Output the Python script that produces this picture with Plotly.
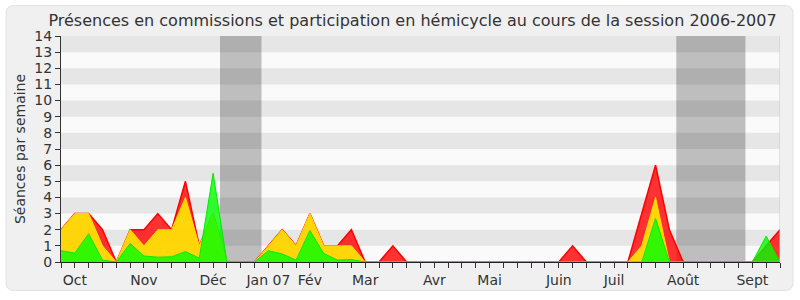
import plotly.graph_objects as go

weeks = list(range(53))
month_labels = {1: "Oct", 6: "Nov", 11: "Déc", 15: "Jan 07", 18: "Fév", 22: "Mar",
                27: "Avr", 31: "Mai", 36: "Juin", 40: "Juil", 45: "Août", 50: "Sept"}
tick_text = [month_labels.get(w, "") for w in weeks]

# Séances par semaine
red = [2, 3, 3, 2, 0, 2, 2, 3, 2, 5, 1, 3, 0, 0, 0, 1, 2, 1, 3, 1, 1, 2, 0, 0, 1, 0,
       0, 0, 0, 0, 0, 0, 0, 0, 0, 0, 0, 1, 0, 0, 0, 0, 3, 6, 2, 0, 0, 0, 0, 0, 0, 1, 2]
yellow = [2, 3, 3, 1, 0, 2, 1, 2, 2, 4, 1, 3, 0, 0, 0, 1, 2, 1, 3, 1, 1, 1, 0, 0, 0, 0,
          0, 0, 0, 0, 0, 0, 0, 0, 0, 0, 0, 0, 0, 0, 0, 0, 1, 4, 0, 0, 0, 0, 0, 0, 0, 0, 0]
green = [0.7, 0.55, 1.75, 0.12, 0, 1.15, 0.37, 0.3, 0.32, 0.65, 0.24, 5.5, 0, 0, 0, 0.7,
         0.5, 0.12, 1.95, 0.53, 0.12, 0.15, 0, 0, 0, 0, 0, 0, 0, 0, 0, 0, 0, 0, 0, 0, 0,
         0, 0, 0, 0, 0, 0, 2.7, 0, 0, 0, 0, 0, 0, 0, 1.6, 0]

vacations = [(11.5, 14.5), (44.5, 49.5)]
y_max = 14
x_max = weeks[-1]

fig = go.Figure()
fig.add_trace(go.Scatter(x=weeks, y=red, mode="lines", fill="tozeroy",
                         fillcolor="rgba(255,0,0,0.8)", line=dict(color="#ff0000", width=1.5),
                         hoverinfo="skip"))
fig.add_trace(go.Scatter(x=weeks, y=yellow, mode="lines", fill="tozeroy",
                         fillcolor="rgba(255,255,0,0.8)", line=dict(color="rgba(255,220,0,1)", width=1),
                         hoverinfo="skip"))
fig.add_trace(go.Scatter(x=weeks, y=green, mode="lines", fill="tozeroy",
                         fillcolor="rgba(0,255,0,0.8)", line=dict(color="rgba(0,235,0,1)", width=1),
                         hoverinfo="skip"))

L, R, T, B = 61, 20, 36, 34
W, H = 800, 300
pw, ph = W - L - R, H - T - B


def px(x):
    return (x - L) / pw


def py(y):
    return (H - B - y) / ph


shapes = []
x0, x1, y0, y1, r = 6, 793, 5, 295, 8
path = (f"M {px(x0+r)},{py(y0)} L {px(x1-r)},{py(y0)} Q {px(x1)},{py(y0)} {px(x1)},{py(y0+r)} "
        f"L {px(x1)},{py(y1-r)} Q {px(x1)},{py(y1)} {px(x1-r)},{py(y1)} "
        f"L {px(x0+r)},{py(y1)} Q {px(x0)},{py(y1)} {px(x0)},{py(y1-r)} "
        f"L {px(x0)},{py(y0+r)} Q {px(x0)},{py(y0)} {px(x0+r)},{py(y0)} Z")
shapes.append(dict(type="path", xref="paper", yref="paper", path=path, layer="below",
                   fillcolor="#f0f0f0", line=dict(color="#e2e2e2", width=1)))
# plot background (axis-referenced so it sits above the frame)
shapes.append(dict(type="rect", xref="x", yref="y", x0=0, x1=x_max, y0=0, y1=y_max,
                   layer="below", fillcolor="#fafafa", line=dict(width=0)))
for a, b in vacations:
    shapes.append(dict(type="rect", xref="x", yref="y", x0=a, x1=b, y0=0, y1=y_max,
                       layer="below", fillcolor="#bebebe", line=dict(width=0)))
for k in range(1, y_max, 2):
    shapes.append(dict(type="rect", xref="x", yref="y", x0=0, x1=x_max, y0=k, y1=k + 1,
                       layer="below", fillcolor="rgba(0,0,0,0.08)", line=dict(width=0)))
shapes.append(dict(type="line", xref="x", yref="y", x0=x_max, x1=x_max, y0=0, y1=y_max,
                   line=dict(color="#c8c8c8", width=1)))

font = "DejaVu Sans"
fig.update_layout(
    width=W, height=H,
    margin=dict(l=L, r=R, t=T, b=B),
    paper_bgcolor="white",
    plot_bgcolor="rgba(0,0,0,0)",
    showlegend=False,
    shapes=shapes,
    font=dict(family=font, color="#333333", size=14),
    title=dict(text="Présences en commissions et participation en hémicycle au cours de la session 2006-2007",
               x=412.5 / W, xanchor="center", xref="container",
               y=1 - 20 / H, yanchor="middle", yref="container",
               font=dict(family=font, size=16, color="#333333")),
    xaxis=dict(range=[0, x_max], tickmode="array", tickvals=weeks, ticktext=tick_text,
               ticks="outside", ticklen=5, tickcolor="#333333", tickwidth=1,
               showline=True, linecolor="#222222", linewidth=1,
               showgrid=False, zeroline=False, tickfont=dict(size=14)),
    xaxis2=dict(range=[0, x_max], overlaying="x", side="top", tickmode="array", tickvals=weeks,
                ticks="outside", ticklen=2, tickcolor="#222222", showticklabels=False,
                showgrid=False, zeroline=False, showline=False),
    yaxis=dict(range=[0, y_max], tickmode="linear", tick0=0, dtick=1,
               ticks="outside", ticklen=5, tickcolor="#333333",
               showline=True, linecolor="#333333", linewidth=1,
               showgrid=False, zeroline=False, tickfont=dict(size=14),
               title=dict(text="Séances par semaine", standoff=5, font=dict(size=14))),
)

fig.write_html("out.html")
